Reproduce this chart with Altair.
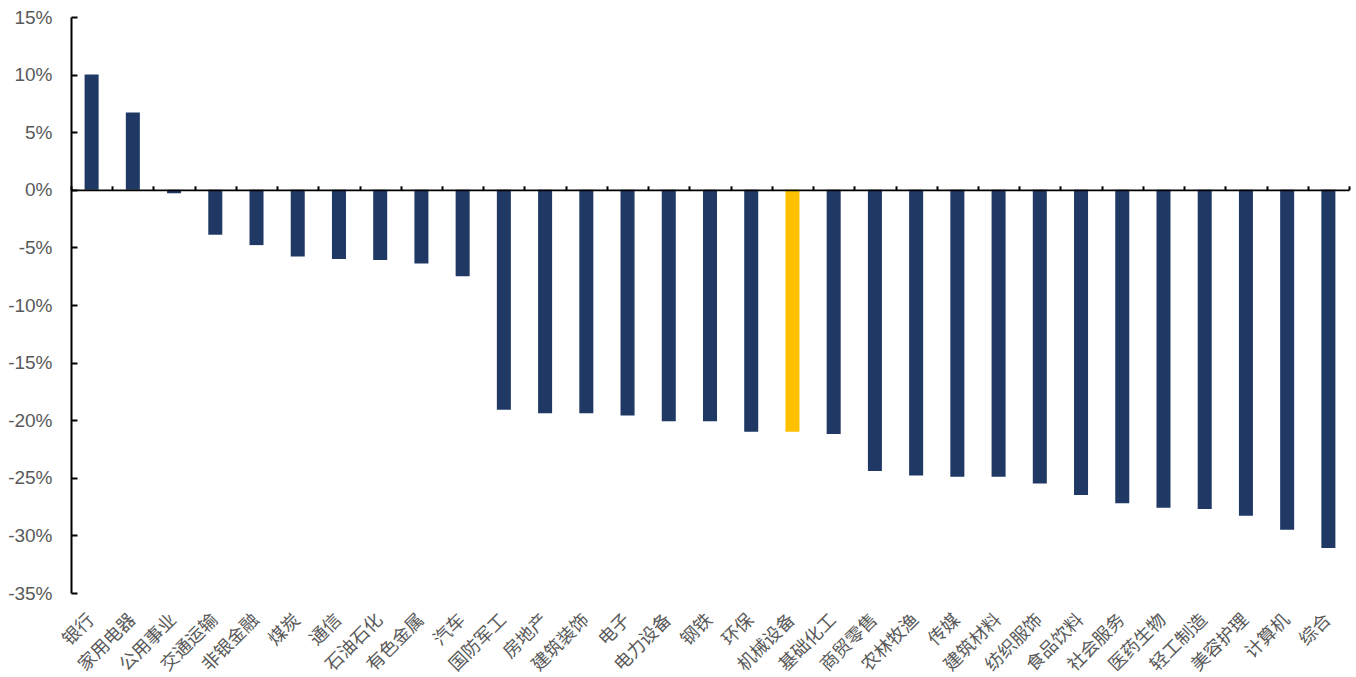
import altair as alt
import pandas as pd

# Industry returns (%), sorted from best to worst
industries = [
    "银行", "家用电器", "公用事业", "交通运输", "非银金融", "煤炭", "通信", "石油石化",
    "有色金属", "汽车", "国防军工", "房地产", "建筑装饰", "电子", "电力设备", "钢铁",
    "环保", "机械设备", "基础化工", "商贸零售", "农林牧渔", "传媒", "建筑材料", "纺织服饰",
    "食品饮料", "社会服务", "医药生物", "轻工制造", "美容护理", "计算机", "综合",
]
returns = [
    10.0, 6.7, -0.3, -3.9, -4.8, -5.8, -6.0, -6.1,
    -6.4, -7.5, -19.1, -19.4, -19.4, -19.6, -20.1, -20.1,
    -21.0, -21.0, -21.2, -24.4, -24.8, -24.9, -24.9, -25.5,
    -26.5, -27.2, -27.6, -27.7, -28.3, -29.5, -31.1,
]
highlight = "机械设备"
y_ticks = [15, 10, 5, 0, -5, -10, -15, -20, -25, -30, -35]
y_min, y_max = -35, 15

NAVY = "#1F3864"
GOLD = "#FFC000"
GREY = "#595959"

W, H = 1278, 576
zero_px = H * y_max / (y_max - y_min)

df = pd.DataFrame({"industry": industries, "ret": returns})
df["group"] = ["hl" if n == highlight else "base" for n in industries]

y_scale = alt.Scale(domain=[y_min, y_max], nice=False, zero=False)
x_scale = alt.Scale(paddingInner=0, paddingOuter=0)

base = alt.Chart(df)

bars = base.mark_bar(width=alt.RelativeBandSize(0.34)).encode(
    x=alt.X(
        "industry:N", sort=industries, scale=x_scale, title=None,
        axis=alt.Axis(
            orient="bottom", domain=False, ticks=False, labelAngle=-45,
            labelAlign="right", labelBaseline="middle", labelPadding=24,
            labelFont="Noto Sans CJK SC", labelFontSize=18, labelColor=GREY,
            labelOverlap=False,
        ),
    ),
    y=alt.Y(
        "ret:Q", scale=y_scale, title=None,
        axis=alt.Axis(
            orient="left", values=y_ticks, labelExpr="datum.value + '%'",
            domain=True, domainColor="black", domainWidth=2, ticks=False,
            labelPadding=19, labelFont="Liberation Sans", labelFontSize=19,
            labelColor=GREY, grid=False,
        ),
    ),
    color=alt.Color(
        "group:N", scale=alt.Scale(domain=["base", "hl"], range=[NAVY, GOLD]), legend=None
    ),
)

# Transparent copy carrying the zero-line axis (ticks between categories)
# and the inward-pointing y ticks.
frame = base.mark_bar(opacity=0).encode(
    x=alt.X(
        "industry:N", sort=industries, scale=x_scale, title=None,
        axis=alt.Axis(
            orient="top", offset=-zero_px, labels=False, domain=True,
            domainColor="black", domainWidth=1.75, ticks=True, tickBand="extent",
            tickSize=4, tickWidth=2, tickColor="black", zindex=2, grid=False,
        ),
    ),
    y=alt.Y(
        "ret:Q", scale=y_scale, title=None,
        axis=alt.Axis(
            orient="right", offset=-W, values=y_ticks, labels=False,
            domain=False, ticks=True, tickSize=6, tickWidth=2,
            tickColor="black", grid=False,
        ),
    ),
)

chart = (
    alt.layer(bars, frame)
    .resolve_axis(x="independent", y="independent")
    .properties(
        width=W, height=H,
        autosize=alt.AutoSizeParams(type="none"),
        padding={"left": 71, "top": 17, "right": 7, "bottom": 84},
        background="white",
    )
    .configure_view(stroke=None)
)

chart.save("out.html", embed_options={"renderer": "svg", "actions": False})
